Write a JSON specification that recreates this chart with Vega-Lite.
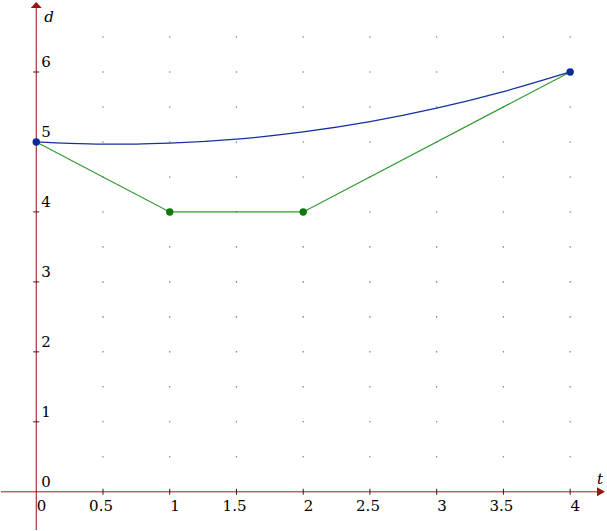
{
  "$schema": "https://vega.github.io/schema/vega-lite/v6.json",
  "width": 607,
  "height": 531,
  "padding": 0,
  "autosize": {"type": "fit", "contains": "padding"},
  "config": {"view": {"stroke": null}},
  "encoding": {
    "x": {"field": "t", "type": "quantitative", "scale": {"domain": [-0.264, 4.276], "nice": false, "zero": false}, "axis": null},
    "y": {"field": "d", "type": "quantitative", "scale": {"domain": [-0.546, 7.029], "nice": false, "zero": false}, "axis": null}
  },
  "layer": [
    {
      "data": {"values": [
        {"t": 0.5, "dd": [0.5,1,1.5,2,2.5,3,3.5,4,4.5,5,5.5,6,6.5]},
        {"t": 1.0, "dd": [0.5,1,1.5,2,2.5,3,3.5,4,4.5,5,5.5,6,6.5]},
        {"t": 1.5, "dd": [0.5,1,1.5,2,2.5,3,3.5,4,4.5,5,5.5,6,6.5]},
        {"t": 2.0, "dd": [0.5,1,1.5,2,2.5,3,3.5,4,4.5,5,5.5,6,6.5]},
        {"t": 2.5, "dd": [0.5,1,1.5,2,2.5,3,3.5,4,4.5,5,5.5,6,6.5]},
        {"t": 3.0, "dd": [0.5,1,1.5,2,2.5,3,3.5,4,4.5,5,5.5,6,6.5]},
        {"t": 3.5, "dd": [0.5,1,1.5,2,2.5,3,3.5,4,4.5,5,5.5,6,6.5]},
        {"t": 4.0, "dd": [0.5,1,1.5,2,2.5,3,3.5,4,4.5,5,5.5,6,6.5]}
      ]},
      "transform": [{"flatten": ["dd"], "as": ["d"]}],
      "mark": {"type": "point", "filled": true, "size": 2.5, "color": "#808080", "opacity": 1}
    },
    {
      "data": {"values": [{"t": -0.264, "d": 0, "t2": 4.201}]},
      "mark": {"type": "rule", "color": "#9a1c1c", "strokeWidth": 1},
      "encoding": {"x2": {"field": "t2"}}
    },
    {
      "data": {"values": [{"t": 0, "d": -0.546, "d2": 6.914}]},
      "mark": {"type": "rule", "color": "#8b1010", "strokeWidth": 1},
      "encoding": {"y2": {"field": "d2"}}
    },
    {
      "data": {"values": [{"t": 0, "d": 6.914}]},
      "mark": {"type": "point", "shape": "M-1,0L1,0L0,-1.1Z", "filled": true, "size": 121, "color": "#a01010", "opacity": 1}
    },
    {
      "data": {"values": [{"t": 4.201, "d": 0}]},
      "mark": {"type": "point", "shape": "M0,-0.85L1.5,0L0,0.85Z", "filled": true, "size": 112, "color": "#a01010", "opacity": 1}
    },
    {
      "data": {"values": [{"t": 0.5, "d": 0}, {"t": 1, "d": 0}, {"t": 1.5, "d": 0}, {"t": 2, "d": 0}, {"t": 2.5, "d": 0}, {"t": 3, "d": 0}, {"t": 3.5, "d": 0}, {"t": 4, "d": 0}]},
      "mark": {"type": "tick", "orient": "vertical", "size": 6, "thickness": 1, "color": "#222222", "opacity": 1}
    },
    {
      "data": {"values": [{"t": 0, "d": 1}, {"t": 0, "d": 2}, {"t": 0, "d": 3}, {"t": 0, "d": 4}, {"t": 0, "d": 5}, {"t": 0, "d": 6}]},
      "mark": {"type": "tick", "orient": "horizontal", "size": 6, "thickness": 1, "color": "#222222", "opacity": 1}
    },
    {
      "data": {"values": [
        {"t": 0, "d": 0, "lab": "0"}, {"t": 0.5, "d": 0, "lab": "0.5"}, {"t": 1, "d": 0, "lab": "1"},
        {"t": 1.5, "d": 0, "lab": "1.5"}, {"t": 2, "d": 0, "lab": "2"}, {"t": 2.5, "d": 0, "lab": "2.5"},
        {"t": 3, "d": 0, "lab": "3"}, {"t": 3.5, "d": 0, "lab": "3.5"}, {"t": 4, "d": 0, "lab": "4"}
      ]},
      "mark": {"type": "text", "align": "right", "baseline": "alphabetic", "dx": 10, "dy": 19, "font": "DejaVu Serif", "fontSize": 15, "color": "#000000"},
      "encoding": {"text": {"field": "lab"}}
    },
    {
      "data": {"values": [
        {"t": 0, "d": 0, "lab": "0"}, {"t": 0, "d": 1, "lab": "1"}, {"t": 0, "d": 2, "lab": "2"},
        {"t": 0, "d": 3, "lab": "3"}, {"t": 0, "d": 4, "lab": "4"}, {"t": 0, "d": 5, "lab": "5"}, {"t": 0, "d": 6, "lab": "6"}
      ]},
      "mark": {"type": "text", "align": "left", "baseline": "alphabetic", "dx": 5, "dy": -5, "font": "DejaVu Serif", "fontSize": 15, "color": "#000000"},
      "encoding": {"text": {"field": "lab"}}
    },
    {
      "data": {"values": [{"t": 0.06, "d": 6.715, "lab": "d"}, {"t": 4.201, "d": 0.11, "lab": "t"}]},
      "mark": {"type": "text", "align": "left", "baseline": "alphabetic", "font": "DejaVu Serif", "fontStyle": "italic", "fontSize": 15, "color": "#000000"},
      "encoding": {"text": {"field": "lab"}}
    },
    {
      "data": {"values": [{"t": 0, "d": 5}, {"t": 1, "d": 4}, {"t": 2, "d": 4}, {"t": 4, "d": 6}]},
      "mark": {"type": "line", "color": "#2e9a2e", "strokeWidth": 1.2}
    },
    {
      "data": {"values": [
        {"t": 0, "d": 5}, {"t": 0.25, "d": 4.979}, {"t": 0.5, "d": 4.969}, {"t": 0.75, "d": 4.97}, {"t": 1, "d": 4.982},
        {"t": 1.5, "d": 5.04}, {"t": 2, "d": 5.143}, {"t": 2.5, "d": 5.29}, {"t": 3, "d": 5.482},
        {"t": 3.5, "d": 5.719}, {"t": 4, "d": 6}
      ]},
      "mark": {"type": "line", "color": "#1630a0", "strokeWidth": 1.3, "interpolate": "monotone"}
    },
    {
      "data": {"values": [{"t": 1, "d": 4}, {"t": 2, "d": 4}]},
      "mark": {"type": "point", "filled": true, "size": 55, "color": "#0a7a0a", "opacity": 1}
    },
    {
      "data": {"values": [{"t": 0, "d": 5}, {"t": 4, "d": 6}]},
      "mark": {"type": "point", "filled": true, "size": 55, "color": "#0a2b9c", "opacity": 1}
    }
  ]
}
